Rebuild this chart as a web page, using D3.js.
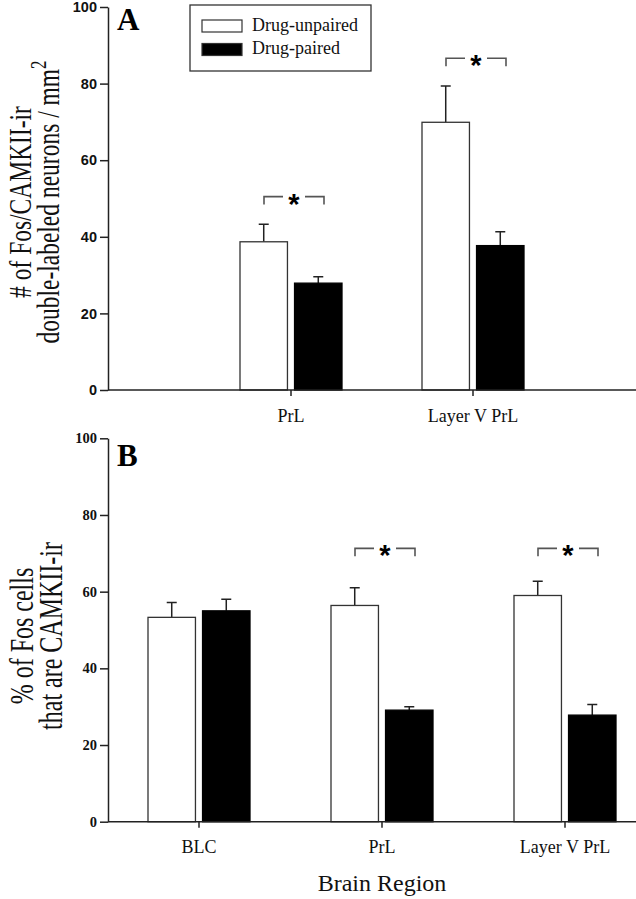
<!DOCTYPE html>
<html>
<head>
<meta charset="utf-8">
<script src="https://cdn.jsdelivr.net/npm/d3@7"></script>
<style>
  html, body { margin: 0; padding: 0; background: #fff; }
  svg { display: block; }
</style>
</head>
<body>
<svg id="chart" width="636" height="899"></svg>
<script>
// ---------------- DATA ----------------
const seriesNames = ["Drug-unpaired", "Drug-paired"];
const yTicks = [0, 20, 40, 60, 80, 100];

// Panel A
const categoriesA = ["PrL", "Layer V PrL"];
const unpairedA = [38.7, 69.9];
const unpairedErrA = [4.6, 9.5];
const pairedA = [27.9, 37.7];
const pairedErrA = [1.7, 3.6];
const sigA = [50.5, 86.6];           // height of significance brackets

// Panel B
const categoriesB = ["BLC", "PrL", "Layer V PrL"];
const unpairedB = [53.3, 56.4, 59.0];
const unpairedErrB = [3.9, 4.6, 3.7];
const pairedB = [55.0, 29.1, 27.8];
const pairedErrB = [3.0, 0.9, 2.8];
const sigB = [null, 71.3, 71.3];

// ---------------- DRAW ----------------
const svg = d3.select("#chart");
const axisColor = "#222";
const serif = "'Liberation Serif', 'Times New Roman', serif";
const sans = "'Liberation Sans', Arial, sans-serif";
const fills = { "Drug-unpaired": "#fff", "Drug-paired": "#000" };

const inner = d3.scaleBand().domain(seriesNames).range([-51, 51]).paddingInner(0.13);

function panel(cfg) {
  const g = svg.append("g");
  const y = d3.scaleLinear().domain([0, 100]).range([cfg.y0, cfg.y1]);
  const x = d3.scaleBand().domain(cfg.cats).range(cfg.xRange);
  const cx = c => x(c) + x.bandwidth() / 2;

  // y axis
  const ya = g.append("g").attr("transform", `translate(${cfg.axisX},0)`)
    .call(d3.axisLeft(y).tickValues(yTicks).tickSize(8).tickSizeOuter(0).tickPadding(3));
  ya.select(".domain").attr("stroke", axisColor).attr("stroke-width", 1.5);
  ya.selectAll(".tick line").attr("stroke", axisColor).attr("stroke-width", 1.5);
  ya.selectAll(".tick text").attr("fill", "#111")
    .style("font-family", cfg.tickFont).style("font-size", cfg.tickSize).style("font-weight", "bold");

  // data rows
  const rows = cfg.cats.map((c, i) => ({
    cat: c,
    vals: [
      { s: seriesNames[0], v: cfg.u[i], e: cfg.ue[i] },
      { s: seriesNames[1], v: cfg.p[i], e: cfg.pe[i] }
    ],
    sig: cfg.sig[i]
  }));

  const grp = g.selectAll("g.cat").data(rows).join("g").attr("class", "cat")
    .attr("transform", d => `translate(${cx(d.cat)},0)`);

  // error bars (upward only)
  grp.selectAll("path.err").data(d => d.vals).join("path").attr("class", "err")
    .attr("d", d => {
      const xc = inner(d.s) + inner.bandwidth() / 2;
      const yt = y(d.v + d.e);
      return `M${xc},${y(d.v)}V${yt}M${xc - 5},${yt}H${xc + 5}`;
    })
    .attr("fill", "none").attr("stroke", "#222").attr("stroke-width", 1.5);

  // bars
  grp.selectAll("rect.bar").data(d => d.vals).join("rect").attr("class", "bar")
    .attr("x", d => inner(d.s))
    .attr("width", inner.bandwidth())
    .attr("y", d => y(d.v))
    .attr("height", d => y(0) - y(d.v))
    .attr("fill", d => fills[d.s])
    .attr("stroke", d => d.s === seriesNames[0] ? "#333" : "#000")
    .attr("stroke-width", 1.3);

  // significance brackets
  const sg = grp.filter(d => d.sig != null);
  sg.append("path")
    .attr("d", d => {
      const yy = y(d.sig), x1 = -27, x2 = 33, m = (x1 + x2) / 2;
      return `M${x1},${yy + 8}V${yy}H${m - 11}M${m + 11},${yy}H${x2}V${yy + 8}`;
    })
    .attr("fill", "none").attr("stroke", "#555").attr("stroke-width", 1.6);
  sg.append("text")
    .attr("x", 3).attr("y", d => y(d.sig) + 17)
    .attr("text-anchor", "middle")
    .style("font-family", sans).style("font-weight", "bold").style("font-size", "29px")
    .text("*");

  // x axis
  g.append("line").attr("x1", cfg.axisX).attr("x2", 636).attr("y1", y(0)).attr("y2", y(0))
    .attr("stroke", axisColor).attr("stroke-width", 1.5);
  const xa = g.append("g").attr("transform", `translate(0,${y(0)})`)
    .call(d3.axisBottom(x).tickSize(6).tickSizeOuter(0).tickPadding(0));
  xa.select(".domain").remove();
  xa.selectAll(".tick line").attr("stroke", axisColor).attr("stroke-width", 1.5);
  xa.selectAll(".tick text").attr("dy", null).attr("y", cfg.labelDY)
    .attr("fill", "#111")
    .style("font-family", serif).style("font-size", "18px");

  // panel letter
  g.append("text").attr("x", 117).attr("y", cfg.letterY)
    .style("font-family", serif).style("font-weight", "bold").style("font-size", "31px")
    .text(cfg.letter);

  // y title (two lines, rotated)
  const yc = cfg.titleY;
  cfg.title.forEach((ln, i) => {
    const t = g.append("text")
      .attr("transform", `translate(${ln.x},${yc}) scale(1.37,1) rotate(-90)`)
      .attr("text-anchor", "middle")
      .attr("fill", "#111")
      .style("font-family", serif).style("font-size", cfg.titleSize);
    t.append("tspan").text(ln.text);
    if (ln.sup) t.append("tspan").attr("dy", "-0.55em").style("font-size", "0.72em").text(ln.sup);
  });
  return g;
}

panel({
  cats: categoriesA, u: unpairedA, ue: unpairedErrA, p: pairedA, pe: pairedErrA, sig: sigA,
  y0: 390, y1: 7, axisX: 108, xRange: [200, 564],
  tickFont: sans, tickSize: "14.5px", labelDY: 32,
  letter: "A", letterY: 30,
  titleY: 202, titleSize: "23.5px",
  title: [
    { x: 31, text: "# of Fos/CAMKII-ir" },
    { x: 59, text: "double-labeled neurons / mm", sup: "2" }
  ]
});

panel({
  cats: categoriesB, u: unpairedB, ue: unpairedErrB, p: pairedB, pe: pairedErrB, sig: sigB,
  y0: 821.7, y1: 438.3, axisX: 108, xRange: [107.5, 656.5],
  tickFont: serif, tickSize: "14.5px", labelDY: 31,
  letter: "B", letterY: 466,
  titleY: 636, titleSize: "24px",
  title: [
    { x: 33, text: "% of Fos cells" },
    { x: 62, text: "that are CAMKII-ir" }
  ]
});

// x-axis title
svg.append("text").attr("x", 382).attr("y", 891)
  .attr("text-anchor", "middle").attr("fill", "#111")
  .style("font-family", serif).style("font-size", "24px")
  .text("Brain Region");

// legend
const lg = svg.append("g").attr("transform", "translate(190,5)");
lg.append("rect").attr("width", 181).attr("height", 66)
  .attr("fill", "#fff").attr("stroke", "#333").attr("stroke-width", 1.3);
const li = lg.selectAll("g.li").data(seriesNames).join("g").attr("class", "li")
  .attr("transform", (d, i) => `translate(12,${15 + i * 23.5})`);
li.append("rect").attr("width", 40).attr("height", 12)
  .attr("fill", d => fills[d]).attr("stroke", "#333").attr("stroke-width", 1.2);
li.append("text").attr("x", 50).attr("y", 10.5)
  .style("font-family", serif).style("font-size", "18px").attr("fill", "#111")
  .text(d => d);
</script>
</body>
</html>
